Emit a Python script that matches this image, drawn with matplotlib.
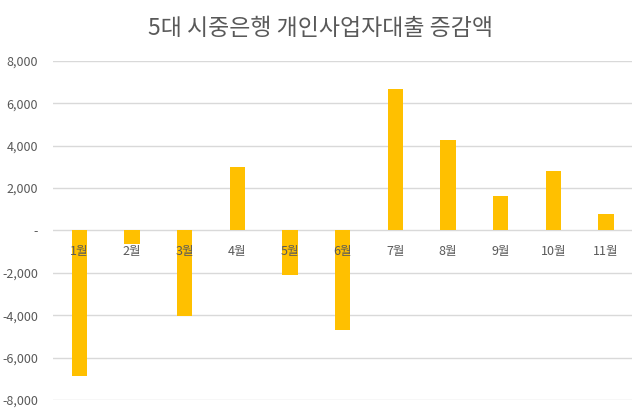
import numpy as np
import matplotlib
matplotlib.use('Agg')
from matplotlib import pyplot as plt
from matplotlib.ticker import FuncFormatter

plt.rcParams['font.family'] = ['Noto Sans CJK KR', 'DejaVu Sans']

# monthly change
months = ['1월', '2월', '3월', '4월', '5월', '6월', '7월', '8월', '9월', '10월', '11월']
change = [-6850, -650, -4030, 2980, -2080, -4680, 6680, 4250, 1650, 2810, 790]
title = '5대 시중은행 개인사업자대출 증감액'

grey = '#595959'

fig = plt.figure(figsize=(6.4, 4.09), dpi=100)
ax = fig.add_axes([0.083, 0.022, 0.905, 0.829])

x = np.arange(len(months))
ax.bar(x, change, width=0.29, color='#FFC000', zorder=3)

ax.set_xlim(-0.5, len(months) - 0.5)
ax.set_ylim(-8000, 8000)
ax.set_yticks(np.arange(-8000, 8001, 2000))
ax.yaxis.set_major_formatter(FuncFormatter(lambda v, p: '-' if v == 0 else f'{v:,.0f}'))
ax.grid(axis='y', color='#D9D9D9', linewidth=1, zorder=0)
ax.set_xticks([])
ax.tick_params(axis='y', length=0, pad=11, labelsize=9, labelcolor=grey)
for s in ax.spines.values():
    s.set_visible(False)

# category labels sit just under the zero line
for i, m in enumerate(months):
    ax.annotate(m, (i, 0), xytext=(0, -15), textcoords='offset points',
                ha='center', va='center', fontsize=9, color=grey, zorder=4)

fig.text(0.5, 0.93, title, ha='center', va='center', fontsize=16.5, color=grey)

fig.savefig('out.png', dpi=100)
